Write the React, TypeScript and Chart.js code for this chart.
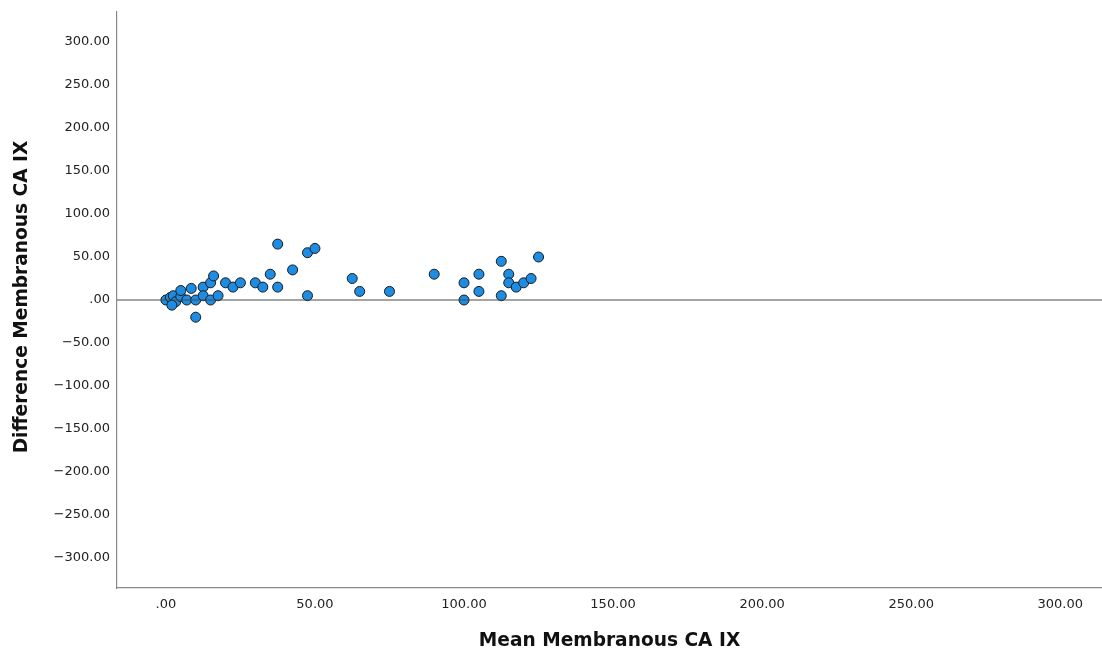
import React, { useEffect, useRef } from "react";
import { Chart, registerables } from "chart.js";

Chart.register(...registerables);

// Mean of the two measurements (x) and their difference (y)
const meanValues = [
  0, 1.5, 2.5, 3.3, 2, 5, 5, 7, 8.5, 10, 10, 12.5, 12.5, 15, 15, 16, 17.5,
  20, 22.5, 25, 30, 32.5, 35, 37.5, 37.5, 42.5, 47.5, 47.5, 50,
  62.5, 65, 75, 90, 100, 100, 105, 105, 112.5, 112.5, 115, 115, 117.5, 120, 122.5, 125,
];
const differenceValues = [
  0, 3, 5, -2, -6, 4, 11, 0, 13.5, 0, -20, 15, 5, 20, 0, 28, 5,
  20, 15, 20, 20, 15, 30, 65, 15, 35, 55, 5, 60,
  25, 10, 10, 30, 20, 0, 30, 10, 45, 5, 30, 20, 15, 20, 25, 50,
];
const referenceLineX = [-16.4, 314];
const referenceLineY = [0, 0];
const xTickValues = [0, 50, 100, 150, 200, 250, 300];
const yTickValues = [-300, -250, -200, -150, -100, -50, 0, 50, 100, 150, 200, 250, 300];
const xTitle = "Mean Membranous CA IX";
const yTitle = "Difference Membranous CA IX";

const fmt = (v: number) => (v === 0 ? ".00" : v.toFixed(2).replace("-", "\u2212"));

export default function App() {
  const ref = useRef<HTMLCanvasElement>(null);
  useEffect(() => {
    if (!ref.current) return;
    const titlePlugin = {
      id: "axisTitles",
      afterDraw(chart: any) {
        const ctx = chart.ctx;
        const a = chart.chartArea;
        ctx.save();
        ctx.fillStyle = "#111";
        ctx.font = "bold 18.6px 'DejaVu Sans'";
        ctx.textAlign = "center";
        ctx.textBaseline = "middle";
        ctx.fillText(xTitle, (a.left + a.right) / 2, 641);
        ctx.translate(22, (a.top + a.bottom) / 2 - 3);
        ctx.rotate(-Math.PI / 2);
        ctx.fillText(yTitle, 0, 0);
        ctx.restore();
      },
    };
    const chart = new Chart(ref.current, {
      type: "scatter",
      data: {
        datasets: [
          {
            type: "line",
            data: referenceLineX.map((x, i) => ({ x, y: referenceLineY[i] })),
            borderColor: "#4a4a4a",
            borderWidth: 1.2,
            pointRadius: 0,
            fill: false,
          } as any,
          {
            data: meanValues.map((x, i) => ({ x, y: differenceValues[i] })),
            backgroundColor: "#1c8de3",
            borderColor: "#1a1a1a",
            borderWidth: 1,
            pointRadius: 5,
          },
        ],
      },
      options: {
        animation: false,
        responsive: false,
        layout: { autoPadding: false, padding: { top: 12, right: 0, left: 0, bottom: 0 } },
        plugins: { legend: { display: false }, tooltip: { enabled: false } },
        scales: {
          x: {
            type: "linear",
            min: -16.4,
            max: 314,
            afterFit(s: any) {
              s.height = 69;
              s.paddingRight = 0;
              s.paddingLeft = 0;
            },
            afterBuildTicks(s: any) {
              s.ticks = xTickValues.map((v) => ({ value: v }));
            },
            grid: { display: false, drawTicks: false },
            border: { display: true, color: "#8a8a8a", width: 1.2 },
            ticks: {
              padding: 9,
              color: "#222",
              font: { family: "'DejaVu Sans'", size: 13 },
              callback: (v: any) => fmt(Number(v)),
            },
          },
          y: {
            type: "linear",
            min: -335,
            max: 335,
            afterFit(s: any) {
              s.width = 117;
              s.paddingTop = 0;
              s.paddingBottom = 0;
            },
            afterBuildTicks(s: any) {
              s.ticks = yTickValues.map((v) => ({ value: v }));
            },
            grid: { display: false, drawTicks: false },
            border: { display: true, color: "#8a8a8a", width: 1.2 },
            ticks: {
              padding: 7,
              color: "#222",
              font: { family: "'DejaVu Sans'", size: 13 },
              callback: (v: any) => fmt(Number(v)),
            },
          },
        },
      },
      plugins: [titlePlugin],
    });
    return () => chart.destroy();
  }, []);
  return (
    <div style={{ position: "fixed", left: 0, top: 0, width: 1102, height: 657, background: "#fff" }}>
      <canvas ref={ref} width={1102} height={657} style={{ width: 1102, height: 657 }} />
    </div>
  );
}
